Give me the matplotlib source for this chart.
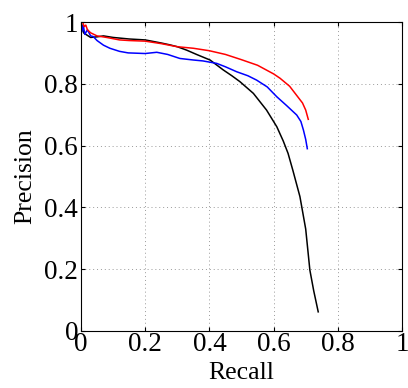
import matplotlib
matplotlib.use('Agg')
import matplotlib.pyplot as plt

# precision / recall curves
red_recall = [0.005, 0.01, 0.015, 0.02, 0.03, 0.05, 0.08, 0.12, 0.15, 0.2, 0.25, 0.3, 0.35, 0.4,
              0.45, 0.5, 0.55, 0.6, 0.62, 0.65, 0.67, 0.69, 0.70, 0.708]
red_precision = [1.0, 0.985, 0.99, 0.975, 0.965, 0.955, 0.95, 0.942, 0.94, 0.938, 0.93, 0.92,
                 0.915, 0.907, 0.895, 0.878, 0.86, 0.832, 0.818, 0.792, 0.765, 0.738, 0.715, 0.685]

blue_recall = [0.003, 0.007, 0.012, 0.02, 0.03, 0.038, 0.05, 0.07, 0.09, 0.12, 0.147, 0.2, 0.236,
               0.27, 0.308, 0.35, 0.38, 0.423, 0.45, 0.485, 0.52, 0.547, 0.58, 0.61, 0.64, 0.672,
               0.685, 0.693, 0.70, 0.705]
blue_precision = [0.97, 0.99, 0.96, 0.975, 0.955, 0.953, 0.94, 0.925, 0.915, 0.905, 0.90, 0.898,
                  0.902, 0.895, 0.882, 0.877, 0.874, 0.866, 0.855, 0.839, 0.826, 0.812, 0.79,
                  0.758, 0.73, 0.699, 0.678, 0.65, 0.62, 0.59]

black_recall = [0.003, 0.008, 0.015, 0.03, 0.05, 0.07, 0.1, 0.12, 0.15, 0.2, 0.25, 0.277, 0.3,
                0.329, 0.36, 0.402, 0.443, 0.47, 0.495, 0.537, 0.578, 0.61, 0.63, 0.645, 0.66,
                0.682, 0.70, 0.713, 0.725, 0.739]
black_precision = [0.99, 0.965, 0.96, 0.95, 0.952, 0.955, 0.95, 0.948, 0.945, 0.942, 0.932, 0.926,
                   0.92, 0.909, 0.895, 0.877, 0.845, 0.826, 0.807, 0.769, 0.715, 0.661, 0.615,
                   0.575, 0.52, 0.435, 0.33, 0.197, 0.13, 0.062]

ticks = [0, 0.2, 0.4, 0.6, 0.8, 1]
tick_labels = ['0', '0.2', '0.4', '0.6', '0.8', '1']

plt.rcParams['font.family'] = ['Liberation Serif', 'DejaVu Serif']

fig = plt.figure(figsize=(4.08, 3.88), dpi=100)
ax = fig.add_axes([81 / 408, 1 - 331 / 388, 321 / 408, 309 / 388])

ax.plot(black_recall, black_precision, color='k', linewidth=1.1)
ax.plot(blue_recall, blue_precision, color='b', linewidth=1.1)
ax.plot(red_recall, red_precision, color='r', linewidth=1.1)

ax.set_xlim(0, 1)
ax.set_ylim(0, 1)
ax.set_xticks(ticks)
ax.set_xticklabels(tick_labels)
ax.set_yticks(ticks)
ax.set_yticklabels(tick_labels)
ax.tick_params(direction='in', top=True, right=True, labelsize=19.5, length=3, pad=2)
ax.tick_params(axis='x', pad=1)
ax.grid(True, linestyle=(0, (1, 3)), color='#999999', linewidth=0.7)
for s in ax.spines.values():
    s.set_linewidth(0.8)

ax.set_xlabel('Recall', fontsize=18.5, labelpad=3)
ax.set_ylabel('Precision', fontsize=18.5, labelpad=6)

fig.savefig('out.png', dpi=100)
